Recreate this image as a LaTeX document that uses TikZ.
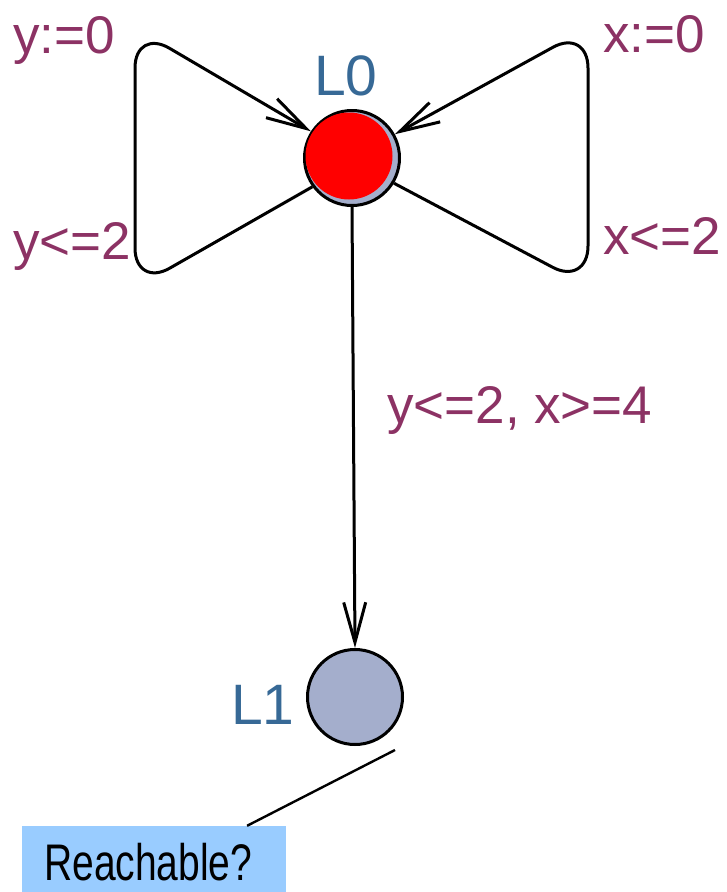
\documentclass[tikz,border=0pt]{standalone}
\usepackage{fontspec}
\setmainfont{Liberation Sans}
\usetikzlibrary{arrows.meta,calc}
\definecolor{lblpurple}{RGB}{140,50,100}
\definecolor{locblue}{RGB}{55,105,150}
\definecolor{locfill}{RGB}{164,174,204}
\definecolor{notefill}{RGB}{153,204,255}
\begin{document}
\begin{tikzpicture}[x=1pt,y=-1pt,
  loc/.style={circle, draw=black, line width=3pt, fill=locfill, minimum size=95pt, inner sep=0pt},
  lbl/.style={text=lblpurple, font=\fontsize{53}{53}\selectfont, anchor=base west, inner sep=0pt},
  locname/.style={text=locblue, font=\fontsize{57}{57}\selectfont, anchor=base west, inner sep=0pt},
  edge/.style={draw=black, line width=3pt, -{Straight Barb[length=40pt,width=22pt]}},
  notebox/.style={fill=notefill, minimum width=264pt, minimum height=66pt, inner sep=0pt},
  notetext/.style={text=black, font=\fontsize{39}{39}\selectfont, anchor=base west, inner sep=0pt}]
\useasboundingbox (0,0) rectangle (727,892);
% locations
\node[loc] (L0) at (352,158) {};
\fill[red] ($(L0.center)+(-3,-2)$) circle (43.5pt);
\node[loc] (L1) at (355,697) {};
% loop corner coordinates
\coordinate (lb) at (135,288);
\coordinate (lt) at (135,28);
\coordinate (rb) at (588,286);
\coordinate (rt) at (588,28);
% edges
\draw[edge, rounded corners=40pt] (L0.216) -- (lb) -- (lt) -- (L0.147);
\draw[edge, rounded corners=40pt] (L0.-31) -- (rb) -- (rt) -- (L0.29);
\draw[edge] (L0.south) -- (L1.north);
% labels
\node[lbl] (ly0) at (13,53) {y:=0};
\node[lbl] (lyle) at (13,259) {y<=2};
\node[lbl] (lx0) at (603,52) {x:=0};
\node[lbl] (lxle) at (603,254) {x<=2};
\node[lbl] (lg) at (387,423) {y<=2, x>=4};
\node[locname] (n0) at (314,95) {L0};
\node[locname] (n1) at (231,724) {L1};
% note
\node[notebox] (note) at (154,859) {};
\node[notetext] (nt) at (44,880) {\scalebox{1}[1.32]{Reachable?}};
\coordinate (ntip) at (395,750);
\draw[line width=2.4pt] ($(note.north west)!0.852!(note.north east)$) -- (ntip);
\end{tikzpicture}
\end{document}
